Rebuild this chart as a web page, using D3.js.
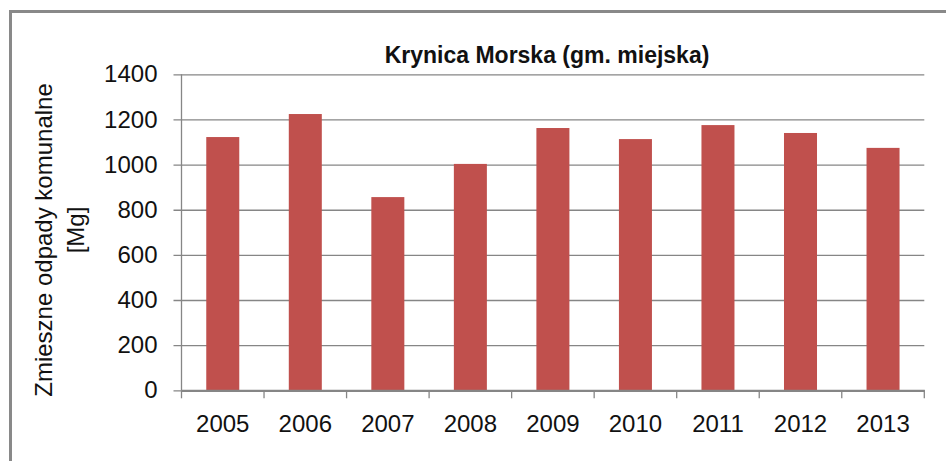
<!DOCTYPE html>
<html lang="pl">
<head>
  <meta charset="UTF-8" />
  <title>Krynica Morska (gm. miejska)</title>
  <script src="https://d3js.org/d3.v7.min.js"></script>
  <style>
    body { margin: 0; background: white; font-family: "Liberation Sans", Arial, sans-serif; }
    .grid line { stroke: #868686; stroke-width: 1.3px; }
    .tick text { fill: #111; }
  </style>
</head>
<body>
  <svg id="chart" width="946" height="461"></svg>

  <script>
    // data
    const years = ["2005", "2006", "2007", "2008", "2009", "2010", "2011", "2012", "2013"];
    const values = [1122, 1224, 856, 1003, 1162, 1113, 1175, 1140, 1074];
    const yTicks = [0, 200, 400, 600, 800, 1000, 1200, 1400];

    const svg = d3.select("#chart");
    const margin = { left: 181.5, right: 21.7, top: 74.3, bottom: 70.7 };
    const width = 946, height = 461;

    // chart frame
    svg.append("rect")
      .attr("x", 10.5).attr("y", 11.5)
      .attr("width", 1000).attr("height", 1000)
      .attr("fill", "white")
      .attr("stroke", "#898989")
      .attr("stroke-width", 3);

    const x = d3.scaleBand()
      .domain(years)
      .range([margin.left, width - margin.right])
      .paddingInner(0.6)
      .paddingOuter(0.3);

    const xCat = d3.scaleBand()
      .domain(years)
      .range([margin.left, width - margin.right]);

    const y = d3.scaleLinear()
      .domain([0, 1400])
      .range([height - margin.bottom, margin.top]);

    // gridlines + y axis
    const yAxis = svg.append("g")
      .attr("class", "grid")
      .attr("transform", `translate(${margin.left},0)`)
      .call(d3.axisLeft(y).tickValues(yTicks)
        .tickSize(-(width - margin.right - margin.left + 8))
        .tickPadding(16)
        .tickFormat(d3.format("d")));
    yAxis.select(".domain").remove();
    yAxis.selectAll(".tick line").attr("x1", -8).attr("x2", width - margin.right - margin.left);
    yAxis.selectAll(".tick text")
      .attr("x", -24)
      .attr("font-size", 24)
      .attr("font-family", "Liberation Sans, Arial, sans-serif");

    svg.append("line")
      .attr("x1", margin.left).attr("x2", margin.left)
      .attr("y1", margin.top).attr("y2", height - margin.bottom)
      .attr("stroke", "#868686").attr("stroke-width", 1.3);

    // bars
    svg.append("g")
      .selectAll("rect")
      .data(years)
      .join("rect")
      .attr("x", d => x(d))
      .attr("width", x.bandwidth())
      .attr("y", (d, i) => y(values[i]))
      .attr("height", (d, i) => y(0) - y(values[i]))
      .attr("fill", "#C0504D");

    // x axis
    const xAxis = svg.append("g")
      .attr("transform", `translate(0,${y(0)})`)
      .call(d3.axisBottom(xCat).tickSize(0).tickPadding(25));
    xAxis.select(".domain").attr("stroke", "#868686").attr("stroke-width", 2.2);
    xAxis.selectAll(".tick text")
      .attr("font-size", 24)
      .attr("font-family", "Liberation Sans, Arial, sans-serif");

    const bounds = years.map(d => xCat(d)).concat([xCat(years[years.length - 1]) + xCat.bandwidth()]);
    xAxis.selectAll(".cat-tick")
      .data(bounds)
      .join("line")
      .attr("class", "cat-tick")
      .attr("x1", d => d).attr("x2", d => d)
      .attr("y1", 0).attr("y2", 8)
      .attr("stroke", "#868686").attr("stroke-width", 1.3);

    // title
    svg.append("text")
      .attr("x", 547).attr("y", 63)
      .attr("text-anchor", "middle")
      .attr("font-size", 23)
      .attr("font-weight", "bold")
      .attr("fill", "#111")
      .text("Krynica Morska (gm. miejska)");

    // y axis title
    const yTitle = svg.append("text")
      .attr("transform", "translate(0,240) rotate(-90)")
      .attr("text-anchor", "middle")
      .attr("font-size", 24)
      .attr("fill", "#111");
    yTitle.append("tspan").attr("x", 0).attr("y", 52).text("Zmieszne odpady komunalne");
    yTitle.append("tspan").attr("x", 10).attr("y", 84).text("[Mg]");
  </script>
</body>
</html>
